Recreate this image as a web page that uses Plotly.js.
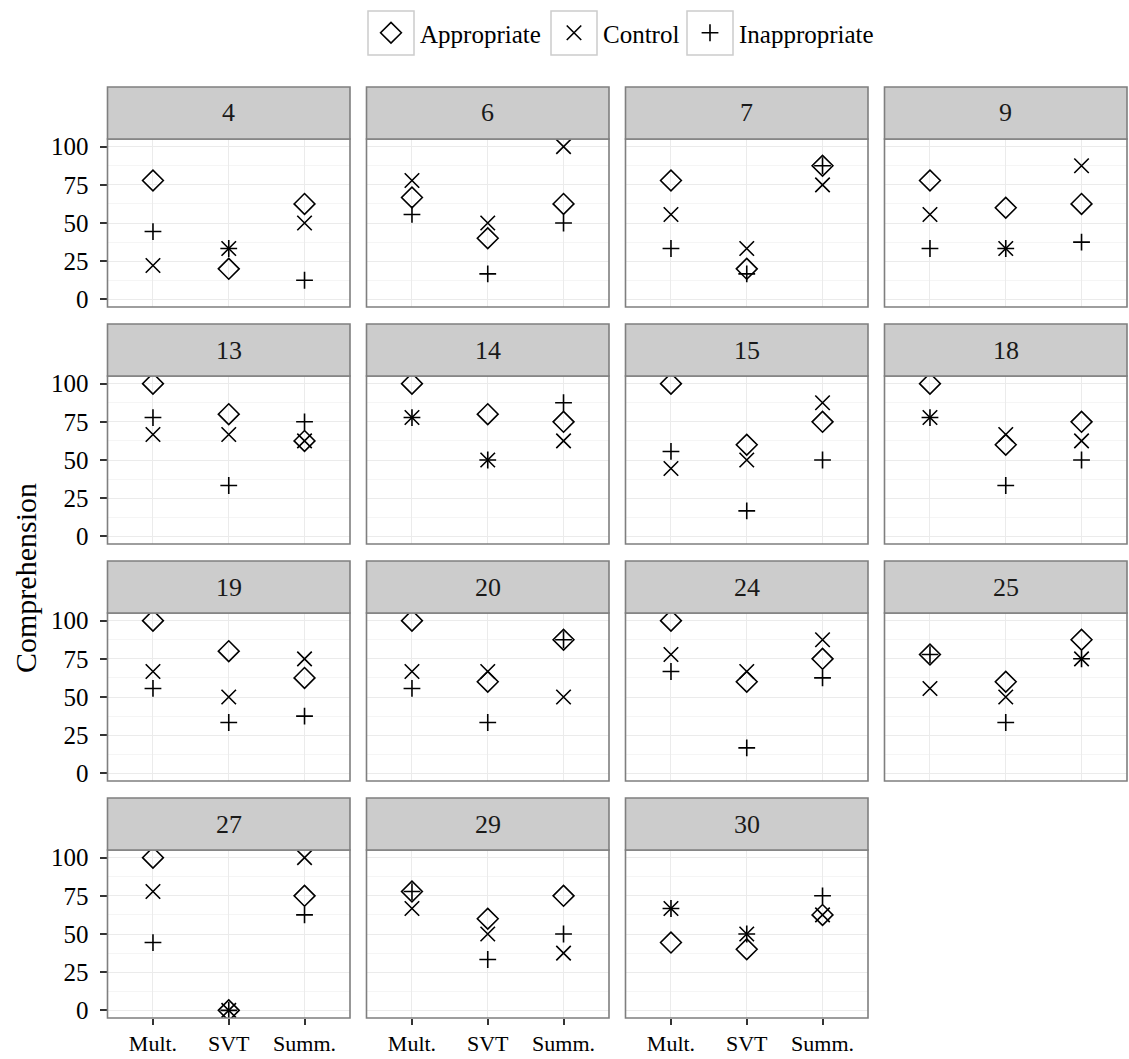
<!DOCTYPE html>
<html>
<head>
<meta charset="utf-8">
<script src="https://cdn.plot.ly/plotly-3.0.1.min.js"></script>
<style>html,body{margin:0;padding:0;background:#fff;}</style>
</head>
<body>
<div id="chart" style="width:1129px;height:1059px;"></div>
<script>
// ---- data ----
const panels = ['4','6','7','9','13','14','15','18','19','20','24','25','27','29','30'];
const categories = ['Mult.','SVT','Summ.'];
const seriesNames = ['Appropriate','Control','Inappropriate'];
const appropriate = [
  [77.8, 20, 62.5], [66.7, 40, 62.5], [77.8, 20, 87.5], [77.8, 60, 62.5],
  [100, 80, 62.5], [100, 80, 75], [100, 60, 75], [100, 60, 75],
  [100, 80, 62.5], [100, 60, 87.5], [100, 60, 75], [77.8, 60, 87.5],
  [100, 0, 75], [77.8, 60, 75], [44.4, 40, 62.5]
];
const control = [
  [22.2, 33.3, 50], [77.8, 50, 100], [55.6, 33.3, 75], [55.6, 33.3, 87.5],
  [66.7, 66.7, 62.5], [77.8, 50, 62.5], [44.4, 50, 87.5], [77.8, 66.7, 62.5],
  [66.7, 50, 75], [66.7, 66.7, 50], [77.8, 66.7, 87.5], [55.6, 50, 75],
  [77.8, 0, 100], [66.7, 50, 37.5], [66.7, 50, 62.5]
];
const inappropriate = [
  [44.4, 33.3, 12.5], [55.6, 16.7, 50], [33.3, 16.7, 87.5], [33.3, 33.3, 37.5],
  [77.8, 33.3, 75], [77.8, 50, 87.5], [55.6, 16.7, 50], [77.8, 33.3, 50],
  [55.6, 33.3, 37.5], [55.6, 33.3, 87.5], [66.7, 16.7, 62.5], [77.8, 33.3, 75],
  [44.4, 0, 62.5], [77.8, 33.3, 50], [66.7, 50, 75]
];
const yTicks = [0, 25, 50, 75, 100];
const yMinorTicks = [12.5, 37.5, 62.5, 87.5];
const yTitle = 'Comprehension';

// ---- layout constants (pixels) ----
const W = 1129, H = 1059;
const ncol = 4;
const colLeft0 = 107.5, colStep = 259, panelW = 242.5;
const rowTop0 = 139, rowStep = 237, panelH = 168, stripH = 52;
const FONT = 'Liberation Serif, Times New Roman, serif';
const styles = [
  {symbol: 'diamond-open', size: 16},
  {symbol: 'x-thin-open', size: 14.5},
  {symbol: 'cross-thin-open', size: 12}
];
const seriesData = [appropriate, control, inappropriate];
const legendNames = ['legend', 'legend2', 'legend3'];
const legendSymbolCenters = [391, 574, 710];
const legendCenterY = 33;
const boxHalfW = 23, boxHalfH = 22;

const traces = [];
const layout = {
  width: W, height: H, autosize: false,
  margin: {l: 0, r: 0, t: 0, b: 0},
  paper_bgcolor: '#ffffff', plot_bgcolor: '#ffffff',
  font: {family: FONT, color: '#1A1A1A', size: 24},
  shapes: [], annotations: []
};

const nRows = Math.ceil(panels.length / ncol);
panels.forEach((p, i) => {
  const r = Math.floor(i / ncol), c = i % ncol;
  const xa = i === 0 ? 'x' : 'x' + (i + 1);
  const ya = i === 0 ? 'y' : 'y' + (i + 1);
  const xKey = i === 0 ? 'xaxis' : 'xaxis' + (i + 1);
  const yKey = i === 0 ? 'yaxis' : 'yaxis' + (i + 1);
  const left = colLeft0 + c * colStep, top = rowTop0 + r * rowStep;
  const isBottom = (r === nRows - 1);
  const isLeft = c === 0;
  layout[xKey] = {
    domain: [left / W, (left + panelW) / W],
    anchor: ya, type: 'category', categoryorder: 'array', categoryarray: categories,
    range: [-0.6, 2.6], fixedrange: true,
    showgrid: true, gridcolor: '#EBEBEB', gridwidth: 1.2, zeroline: false, showline: false,
    ticks: isBottom ? 'outside' : '', ticklen: 6, tickwidth: 2, tickcolor: '#333333',
    showticklabels: isBottom, tickfont: {size: 22, color: '#000000', family: FONT},
    ticklabelstandoff: 0
  };
  layout[yKey] = {
    domain: [(H - top - panelH) / H, (H - top) / H],
    anchor: xa, range: [-5, 105], fixedrange: true,
    tickmode: 'array', tickvals: yTicks, ticktext: yTicks.map(String),
    showgrid: true, gridcolor: '#EBEBEB', gridwidth: 1.2, zeroline: false, showline: false,
    minor: {tickmode: 'array', tickvals: yMinorTicks, showgrid: true, gridcolor: '#F5F5F5', gridwidth: 1.2, ticks: ''},
    ticks: isLeft ? 'outside' : '', ticklen: 7, tickwidth: 2, tickcolor: '#333333',
    showticklabels: isLeft, tickfont: {size: 25, color: '#000000', family: FONT},
    ticklabelstandoff: 6
  };
  // panel border
  layout.shapes.push({type: 'rect', xref: xa + ' domain', yref: ya + ' domain',
    x0: 0, x1: 1, y0: 0, y1: 1, line: {color: '#7F7F7F', width: 1.6}, layer: 'above'});
  // strip
  layout.shapes.push({type: 'rect', xref: xa + ' domain', yref: ya + ' domain',
    x0: 0, x1: 1, y0: 1, y1: 1 + stripH / panelH, fillcolor: '#CCCCCC',
    line: {color: '#7F7F7F', width: 1.6}, layer: 'above'});
  layout.annotations.push({xref: xa + ' domain', yref: ya + ' domain', x: 0.5,
    y: 1 + (stripH / 2) / panelH, text: p, showarrow: false,
    font: {size: 26, color: '#1A1A1A', family: FONT}, xanchor: 'center', yanchor: 'middle'});

  seriesData.forEach((sd, k) => {
    traces.push({
      type: 'scatter', mode: 'markers', name: seriesNames[k],
      x: categories, y: sd[i], xaxis: xa, yaxis: ya,
      legend: legendNames[k], legendgroup: seriesNames[k], showlegend: i === 0,
      marker: {symbol: styles[k].symbol, size: styles[k].size, color: '#000000', line: {width: 1.6, color: '#000000'}},
      hoverinfo: 'x+y+name'
    });
  });
});

// legends (one per series so each key box lines up)
legendNames.forEach((ln, k) => {
  layout[ln] = {
    x: (legendSymbolCenters[k] - 29) / W, xanchor: 'left',
    y: 1 - (legendCenterY) / H, yanchor: 'middle',
    orientation: 'h', itemwidth: 48, bgcolor: 'rgba(0,0,0,0)', borderwidth: 0,
    font: {size: 25, color: '#000000', family: FONT}, itemclick: false, itemdoubleclick: false
  };
  layout.shapes.push({type: 'rect', xref: 'paper', yref: 'paper',
    x0: (legendSymbolCenters[k] - boxHalfW) / W, x1: (legendSymbolCenters[k] + boxHalfW) / W,
    y0: 1 - (legendCenterY + boxHalfH) / H, y1: 1 - (legendCenterY - boxHalfH) / H,
    line: {color: '#CCCCCC', width: 1.5}, layer: 'below'});
});

// y-axis title
layout.annotations.push({xref: 'paper', yref: 'paper', x: 25 / W, y: 1 - 578 / H,
  text: yTitle, textangle: -90, showarrow: false, xanchor: 'center', yanchor: 'middle',
  font: {size: 30, color: '#000000', family: FONT}});

Plotly.newPlot('chart', traces, layout, {displayModeBar: false, staticPlot: false});
</script>
</body>
</html>
